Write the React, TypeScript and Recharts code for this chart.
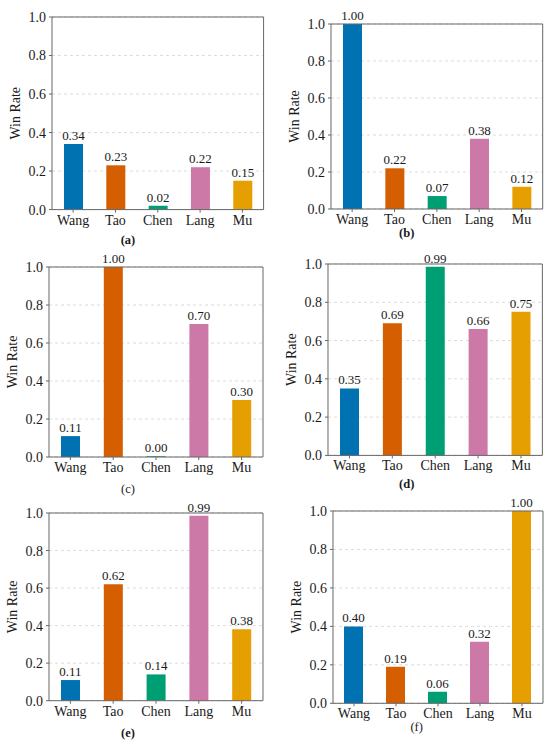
import React from 'react';
import { BarChart, Bar, XAxis, YAxis, CartesianGrid, Cell, LabelList, ReferenceLine, Label } from 'recharts';

const categories = ['Wang', 'Tao', 'Chen', 'Lang', 'Mu'];
const colors = ['#0072B2', '#D55E00', '#009E73', '#CC79A7', '#E69F00'];
const yTicks = [0, 0.2, 0.4, 0.6, 0.8, 1.0];

const valuesA = [0.34, 0.23, 0.02, 0.22, 0.15];
const valuesB = [1.0, 0.22, 0.07, 0.38, 0.12];
const valuesC = [0.11, 1.0, 0.004, 0.7, 0.3];
const valuesD = [0.35, 0.69, 0.986, 0.66, 0.75];
const valuesE = [0.11, 0.62, 0.14, 0.986, 0.38];
const valuesF = [0.4, 0.19, 0.06, 0.32, 1.0];

const panelLetters = ['(a)', '(b)', '(c)', '(d)', '(e)', '(f)'];
const panelValues = [valuesA, valuesB, valuesC, valuesD, valuesE, valuesF];

// plot rectangles (page coords): left, top, right, bottom; letter center x, y
const layouts = [
  { l: 51.7, t: 16.7, r: 263.3, b: 209.3, lx: 128, ly: 240, bold: true },
  { l: 331, t: 24, r: 542.7, b: 209, lx: 406.7, ly: 233, bold: true },
  { l: 49.3, t: 266.7, r: 263.3, b: 456.7, lx: 128, ly: 489, bold: false },
  { l: 328.3, t: 264.3, r: 542.7, b: 455.7, lx: 406.7, ly: 483.5, bold: true },
  { l: 49.3, t: 513, r: 263.3, b: 700.7, lx: 128, ly: 733.3, bold: true },
  { l: 333.3, t: 510.7, r: 543.3, b: 703, lx: 416.7, ly: 727, bold: false },
];

const FONT = 'Liberation Serif, DejaVu Serif, serif';
const AXIS = '#666';
const YW = 50;
const XH = 26;
const MT = 22;
const MR = 4;

function Panel({ values, layout, letter }: any) {
  const data = categories.map((c, i) => ({ name: c, v: values[i] }));
  const w = layout.r - layout.l + YW + 1 + MR;
  const h = layout.b - layout.t + MT + XH;
  const txt = { fontFamily: FONT, fontSize: 14, fill: '#1a1a1a' };
  return (
    <>
      <div style={{ position: 'absolute', left: layout.l - YW, top: layout.t - MT, width: w, height: h, fontFamily: FONT }}>
        <BarChart width={w} height={h} data={data} margin={{ top: MT, right: MR, left: 0, bottom: 0 }} style={{ fontFamily: FONT }}>
          <CartesianGrid vertical={false} stroke="#dcdcdc" strokeDasharray="3 3" />
          <XAxis
            dataKey="name"
            height={XH}
            stroke={AXIS}
            tickSize={3}
            tickMargin={2}
            tick={txt}
            fontFamily={FONT}
            interval={0}
          />
          <YAxis
            width={YW}
            domain={[0, 1]}
            ticks={yTicks}
            stroke={AXIS}
            tickSize={3}
            tickMargin={3}
            fontFamily={FONT}
            tickFormatter={(v: number) => v.toFixed(1)}
            tick={txt}
          >
            <Label value="Win Rate" angle={-90} position="center" dx={-11.7} fontFamily={FONT} fontSize={14} fill="#1a1a1a" />
          </YAxis>
          <YAxis yAxisId="r" orientation="right" width={1} domain={[0, 1]} tick={false} tickLine={false} stroke={AXIS} />
          <ReferenceLine y={1} stroke={AXIS} />
          <Bar dataKey="v" barSize={19} isAnimationActive={false}>
            {data.map((d, i) => (
              <Cell key={d.name} fill={colors[i]} />
            ))}
            <LabelList
              dataKey="v"
              position="top"
              offset={4}
              formatter={(v: number) => v.toFixed(2)}
              fontFamily={FONT}
              fontSize={13}
              fill="#1a1a1a"
            />
          </Bar>
        </BarChart>
      </div>
      <div
        style={{
          position: 'absolute',
          left: layout.lx - 20,
          top: layout.ly - 8,
          width: 40,
          height: 16,
          lineHeight: '16px',
          textAlign: 'center',
          fontFamily: FONT,
          fontSize: 12.5,
          fontWeight: layout.bold ? 'bold' : 'normal',
          color: '#1a1a1a',
        }}
      >
        {letter}
      </div>
    </>
  );
}

export default function App() {
  return (
    <div style={{ position: 'absolute', left: 0, top: 0, width: 550, height: 744, background: '#fff', overflow: 'hidden', fontFamily: FONT }}>
      {panelValues.map((vals, i) => (
        <Panel key={i} values={vals} layout={layouts[i]} letter={panelLetters[i]} />
      ))}
    </div>
  );
}
